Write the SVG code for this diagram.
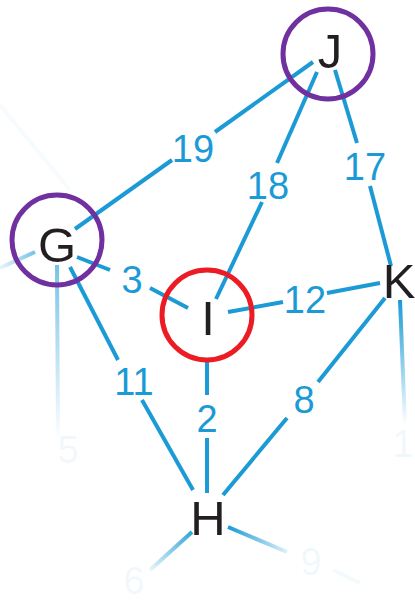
<svg xmlns="http://www.w3.org/2000/svg" width="415" height="601" viewBox="0 0 415 601">
<defs>
<style>
.e{stroke:#1b9ad6;stroke-width:4;fill:none;stroke-linecap:butt}
.lbl{font-family:"Liberation Sans",Arial,sans-serif;font-size:38px;fill:#1b9ad6;text-anchor:middle}
.fl{font-family:"Liberation Sans",Arial,sans-serif;font-size:38px;fill:#1b9ad6;fill-opacity:0.07;text-anchor:middle}
.nt{font-family:"Liberation Sans",Arial,sans-serif;font-size:49px;fill:#231f20;text-anchor:middle}
.ring{fill:none;stroke-width:5}
</style>
<linearGradient id="gG5" gradientUnits="userSpaceOnUse" x1="57" y1="265" x2="58" y2="440"><stop offset="0" stop-color="#1b9ad6" stop-opacity="0.6"/><stop offset="1" stop-color="#1b9ad6" stop-opacity="0"/></linearGradient>
<linearGradient id="gGL" gradientUnits="userSpaceOnUse" x1="35" y1="252" x2="0" y2="268"><stop offset="0" stop-color="#1b9ad6" stop-opacity="0.6"/><stop offset="1" stop-color="#1b9ad6" stop-opacity="0.1"/></linearGradient>
<linearGradient id="gK1" gradientUnits="userSpaceOnUse" x1="400" y1="300" x2="405" y2="425"><stop offset="0" stop-color="#1b9ad6" stop-opacity="1"/><stop offset="1" stop-color="#1b9ad6" stop-opacity="0"/></linearGradient>
<linearGradient id="gH6" gradientUnits="userSpaceOnUse" x1="192" y1="532" x2="150" y2="570"><stop offset="0" stop-color="#1b9ad6" stop-opacity="0.9"/><stop offset="1" stop-color="#1b9ad6" stop-opacity="0.1"/></linearGradient>
<linearGradient id="gH9" gradientUnits="userSpaceOnUse" x1="228" y1="527" x2="287" y2="552"><stop offset="0" stop-color="#1b9ad6" stop-opacity="1"/><stop offset="1" stop-color="#1b9ad6" stop-opacity="0.15"/></linearGradient>
</defs>
<rect width="415" height="601" fill="#ffffff"/>
<g id="connectors">
<line class="e" x1="313" y1="62" x2="215" y2="132"/>
<line class="e" x1="172" y1="160" x2="75" y2="229"/>
<line class="e" x1="317" y1="72" x2="277" y2="163"/>
<line class="e" x1="262" y1="202" x2="216" y2="299"/>
<line class="e" x1="335" y1="70" x2="357" y2="143"/>
<line class="e" x1="370" y1="186" x2="391" y2="266"/>
<line class="e" x1="77" y1="257" x2="110" y2="270"/>
<line class="e" x1="150" y1="288" x2="188" y2="308"/>
<line class="e" x1="228" y1="312" x2="283" y2="302"/>
<line class="e" x1="327" y1="293" x2="380" y2="283"/>
<line class="e" x1="70" y1="267" x2="118" y2="360"/>
<line class="e" x1="142" y1="400" x2="193" y2="490"/>
<line class="e" x1="207" y1="362" x2="207" y2="395"/>
<line class="e" x1="207" y1="438" x2="207" y2="493"/>
<line class="e" x1="385" y1="298" x2="318" y2="382"/>
<line class="e" x1="287" y1="418" x2="223" y2="495"/>
<line x1="57" y1="265" x2="58" y2="440" stroke="url(#gG5)" stroke-width="4"/>
<line x1="35" y1="252" x2="0" y2="268" stroke="url(#gGL)" stroke-width="4"/>
<line x1="400" y1="300" x2="405" y2="425" stroke="url(#gK1)" stroke-width="4"/>
<line x1="192" y1="532" x2="150" y2="570" stroke="url(#gH6)" stroke-width="4"/>
<line x1="228" y1="527" x2="287" y2="552" stroke="url(#gH9)" stroke-width="4"/>
<line x1="333" y1="570" x2="360" y2="583" stroke="#1b9ad6" stroke-opacity="0.05" stroke-width="4"/>
<line x1="0" y1="105" x2="70" y2="190" stroke="#1b9ad6" stroke-opacity="0.04" stroke-width="4"/>
<text class="lbl" x="193" y="162">19</text>
<text class="lbl" x="268" y="199">18</text>
<text class="lbl" x="365" y="180">17</text>
<text class="lbl" x="132" y="293">3</text>
<text class="lbl" x="305" y="313">12</text>
<text class="lbl" x="134" y="395">11</text>
<text class="lbl" x="207" y="432">2</text>
<text class="lbl" x="304" y="413">8</text>
<text class="fl" x="68" y="463">5</text>
<text class="fl" x="134" y="594">6</text>
<text class="fl" x="311" y="575">9</text>
<text class="fl" x="403" y="457">1</text>
</g>
<g id="node-J"><circle class="ring" cx="328" cy="54" r="45" stroke="#7030a0"/><text class="nt" x="330" y="68">J</text></g>
<g id="node-G"><circle class="ring" cx="57" cy="240" r="45" stroke="#7030a0"/><text class="nt" x="57" y="262">G</text></g>
<g id="node-I"><circle class="ring" cx="207" cy="315" r="45" stroke="#ec1c24"/><text class="nt" x="208" y="335">I</text></g>
<g id="node-K"><text class="nt" x="399" y="298">K</text></g>
<g id="node-H"><text class="nt" x="208" y="535">H</text></g>
</svg>
